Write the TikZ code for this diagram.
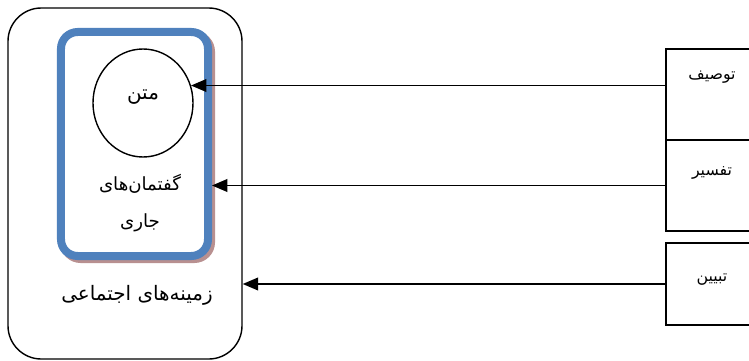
\documentclass[tikz,border=0pt]{standalone}
\usepackage{fontspec}
\newfontfamily\arabicfont[Script=Arabic]{DejaVu Sans}
\TeXXeTstate=1
\usetikzlibrary{shapes.geometric, arrows.meta}
\definecolor{frameblue}{HTML}{4F81BD}
\definecolor{frameshadow}{HTML}{B89090}

\newcommand{\fa}[1]{{\arabicfont\beginR #1\endR}}

\tikzset{
	label text/.style={inner sep=0pt, font=\fontsize{17}{19}\selectfont},
	stage text/.style={inner sep=0pt, font=\fontsize{13.5}{15}\selectfont},
	side box/.style={draw, line width=1.6pt, rectangle, minimum width=2.82cm, inner sep=0pt},
	discourse frame/.style={rectangle, rounded corners=0.5cm, line width=0.24cm, minimum width=4.41cm, minimum height=6.72cm},
	to frame/.style={-{Triangle[length=4.6mm, width=3.8mm]}, line width=1.3pt}
}

\begin{document}
\begin{tikzpicture}[x=0.03cm, y=-0.03cm]
	\useasboundingbox (0, 0) rectangle (749, 361);
	\clip (0, 0) rectangle (749, 361);

	% social context
	\node[draw, rectangle, rounded corners=1cm, line width=1.2pt, minimum width=7.02cm, minimum height=10.53cm] (4) at (125, 183.5) {};
	\node[label text] (4t) at (137, 295) {\fa{زمینه^^^^200cهای اجتماعی}};

	% discourses, shadow first
	\node[discourse frame, draw=frameshadow] (2s) at (137.5, 147) {};
	\node[discourse frame, draw=frameblue, fill=white] (2) at (134.5, 144) {};
	\node[label text, align=center, font=\fontsize{15.5}{31.5}\selectfont] (2t) at (140, 203) {\fa{گفتمان^^^^200cهای}\\\fa{جاری}};

	% text
	\node[draw, ellipse, line width=1.2pt, minimum width=3cm, minimum height=3.24cm, inner sep=0pt] (1) at (143, 103) {};
	\node[label text] (1t) at (143, 97) {\fa{متن}};

	% stages on the right
	\node[side box, minimum height=2.73cm] (5) at (713, 94.5) {};
	\node[side box, minimum height=2.73cm] (6) at (713, 185.5) {};
	\node[side box, minimum height=2.46cm] (7) at (713, 284) {};
	\node[stage text] (5t) at (712, 77) {\fa{توصیف}};
	\node[stage text] (6t) at (712, 173) {\fa{تفسیر}};
	\node[stage text] (7t) at (712, 280) {\fa{تبیین}};

	\draw[to frame] (5.west |- 1.20) -- (1.20);
	\draw[to frame] (6.west) -- (6.west -| 2.east);
	\draw[to frame] (7.west) -- (7.west -| 4.east);
\end{tikzpicture}
\end{document}
